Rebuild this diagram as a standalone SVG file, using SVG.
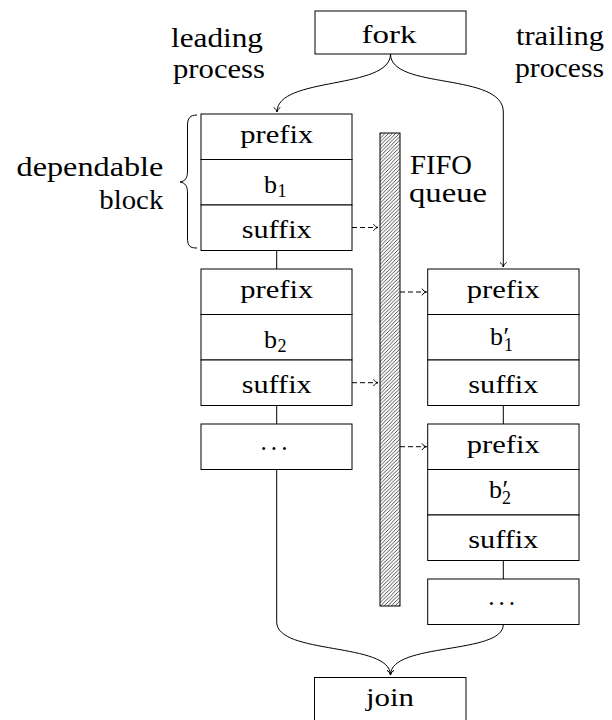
<svg xmlns="http://www.w3.org/2000/svg" width="612" height="720" viewBox="0 0 612 720">
  <style>
    .lbl { font-size: 27px; }
    .c { font-size: 25px; text-anchor: middle; }
    .m { font-size: 26px; }
    .sub { font-size: 18px; }
    .box { fill: #fff; stroke: #000; stroke-width: 1; }
    .edge { fill: none; stroke: #000; stroke-width: 1; }
    .dash { stroke-dasharray: 5 3; }
  </style>
  <defs>
    <!-- open curved "to" arrow tip -->
    <marker id="to" markerUnits="userSpaceOnUse" markerWidth="12" markerHeight="12" viewBox="-6 -6 12 12" refX="0" refY="0" orient="auto" overflow="visible">
      <path d="M-4.5,-3.3 C-3.4,-1.2 -1.3,-0.3 0,0 C-1.3,0.3 -3.4,1.2 -4.5,3.3" fill="none" stroke="#000" stroke-width="1" stroke-dasharray="none"/>
    </marker>
    <!-- north-east hatching for the queue bar -->
    <pattern id="hatch" patternUnits="userSpaceOnUse" width="3.6" height="3.6">
      <path d="M-0.9,0.9 L0.9,-0.9 M0,3.6 L3.6,0 M2.7,4.5 L4.5,2.7" stroke="#000" stroke-width="0.7"/>
    </pattern>
  </defs>

  <g font-family="'Liberation Serif', 'Times New Roman', serif" fill="#000">
  <!-- side labels -->
  <g id="label-leading">
    <text class="lbl" text-anchor="middle" x="217" y="46.7" textLength="92" lengthAdjust="spacingAndGlyphs">leading</text>
    <text class="lbl" text-anchor="middle" x="219" y="77.7" textLength="92" lengthAdjust="spacingAndGlyphs">process</text>
  </g>
  <g id="label-trailing">
    <text class="lbl" text-anchor="middle" x="560" y="45" textLength="88" lengthAdjust="spacingAndGlyphs">trailing</text>
    <text class="lbl" text-anchor="middle" x="559.5" y="77.3" textLength="89" lengthAdjust="spacingAndGlyphs">process</text>
  </g>
  <g id="label-dependable">
    <text class="lbl" text-anchor="end" x="163.3" y="175.5" textLength="146.7" lengthAdjust="spacingAndGlyphs">dependable</text>
    <text class="lbl" text-anchor="end" x="163.3" y="209" textLength="64" lengthAdjust="spacingAndGlyphs">block</text>
    <path class="edge" d="M197,115 C190,115 187.5,118 187.5,126 L187.5,171 C187.5,178 185.5,181 180,182 C185.5,183 187.5,186 187.5,193 L187.5,238 C187.5,246 190,248 197,248"/>
  </g>
  <g id="label-fifo">
    <text class="lbl" x="410" y="174" textLength="62" lengthAdjust="spacingAndGlyphs">FIFO</text>
    <text class="lbl" x="409" y="202" textLength="78" lengthAdjust="spacingAndGlyphs">queue</text>
  </g>

  <!-- connectors -->
  <g id="connectors">
    <path class="edge" d="M390.5,54 C390.5,90 277,76 277,112" marker-end="url(#to)"/>
    <path class="edge" d="M390.5,54 C390.5,90 503.3,72 503.3,112 L503.3,267" marker-end="url(#to)"/>
    <path class="edge" d="M276.7,250.5 L276.7,269 M276.7,405.5 L276.7,424"/>
    <path class="edge" d="M503.3,405.5 L503.3,424 M503.3,560.5 L503.3,579"/>
    <path class="edge" d="M276.7,469.5 L276.7,622 C276.7,655 390.5,642 390.5,675" marker-end="url(#to)"/>
    <path class="edge" d="M503.3,624.5 C503.3,655 390.5,642 390.5,675" marker-end="url(#to)"/>
    <path class="edge dash" d="M352,227.5 L378,227.5" marker-end="url(#to)"/>
    <path class="edge dash" d="M352,382.7 L378,382.7" marker-end="url(#to)"/>
    <path class="edge dash" d="M400,292 L426.5,292" marker-end="url(#to)"/>
    <path class="edge dash" d="M400,446.7 L426.5,446.7" marker-end="url(#to)"/>
  </g>

  <!-- fork / join -->
  <g id="fork">
    <rect class="box" x="315" y="11" width="151" height="43"/>
    <text class="c" x="389" y="43.3" textLength="55" lengthAdjust="spacingAndGlyphs">fork</text>
  </g>
  <g id="join">
    <rect class="box" x="314.5" y="677.5" width="151.5" height="46"/>
    <text class="c" x="390" y="705.7" textLength="48" lengthAdjust="spacingAndGlyphs">join</text>
  </g>

  <!-- FIFO queue bar -->
  <g id="fifo">
    <rect x="380" y="133" width="20" height="473" fill="url(#hatch)" stroke="#000" stroke-width="1"/>
  </g>

  <!-- leading process: first dependable block -->
  <g id="lead-prefix-1">
    <rect class="box" x="201" y="114" width="151" height="45.5"/>
    <text class="c" x="276.7" y="142.8" textLength="73" lengthAdjust="spacingAndGlyphs">prefix</text>
  </g>
  <g id="lead-b1">
    <rect class="box" x="201" y="159.5" width="151" height="45.5"/>
    <text class="m" y="193.3"><tspan x="264">b</tspan><tspan class="sub" x="277.5" y="196.8">1</tspan></text>
  </g>
  <g id="lead-suffix-1">
    <rect class="box" x="201" y="205" width="151" height="45.5"/>
    <text class="c" x="276.7" y="237.5" textLength="70" lengthAdjust="spacingAndGlyphs">suffix</text>
  </g>

  <!-- leading process: second block -->
  <g id="lead-prefix-2">
    <rect class="box" x="201" y="269" width="151" height="45.5"/>
    <text class="c" x="276.7" y="297.8" textLength="73" lengthAdjust="spacingAndGlyphs">prefix</text>
  </g>
  <g id="lead-b2">
    <rect class="box" x="201" y="314.5" width="151" height="45.5"/>
    <text class="m" y="348.3"><tspan x="264">b</tspan><tspan class="sub" x="277.5" y="351.8">2</tspan></text>
  </g>
  <g id="lead-suffix-2">
    <rect class="box" x="201" y="360" width="151" height="45.5"/>
    <text class="c" x="276.7" y="392.5" textLength="70" lengthAdjust="spacingAndGlyphs">suffix</text>
  </g>
  <g id="lead-more">
    <rect class="box" x="201" y="424" width="151" height="45.5"/>
    <text class="c" x="274" y="457" textLength="29" lengthAdjust="spacing">· · ·</text>
  </g>

  <!-- trailing process: first block -->
  <g id="trail-prefix-1">
    <rect class="box" x="427.7" y="269" width="151.3" height="45.5"/>
    <text class="c" x="503.3" y="297.8" textLength="73" lengthAdjust="spacingAndGlyphs">prefix</text>
  </g>
  <g id="trail-b1">
    <rect class="box" x="427.7" y="314.5" width="151.3" height="45.5"/>
    <text class="m" y="345"><tspan x="490">b</tspan><tspan x="503.5">′</tspan><tspan class="sub" x="504" y="351">1</tspan></text>
  </g>
  <g id="trail-suffix-1">
    <rect class="box" x="427.7" y="360" width="151.3" height="45.5"/>
    <text class="c" x="503.3" y="392.5" textLength="70" lengthAdjust="spacingAndGlyphs">suffix</text>
  </g>

  <!-- trailing process: second block -->
  <g id="trail-prefix-2">
    <rect class="box" x="427.7" y="424" width="151.3" height="45.5"/>
    <text class="c" x="503.3" y="452.8" textLength="73" lengthAdjust="spacingAndGlyphs">prefix</text>
  </g>
  <g id="trail-b2">
    <rect class="box" x="427.7" y="469.5" width="151.3" height="45.5"/>
    <text class="m" y="498"><tspan x="489">b</tspan><tspan x="502.5">′</tspan><tspan class="sub" x="502" y="504">2</tspan></text>
  </g>
  <g id="trail-suffix-2">
    <rect class="box" x="427.7" y="515" width="151.3" height="45.5"/>
    <text class="c" x="503.3" y="547.5" textLength="70" lengthAdjust="spacingAndGlyphs">suffix</text>
  </g>
  <g id="trail-more">
    <rect class="box" x="427.7" y="579" width="151.3" height="45.5"/>
    <text class="c" x="501.7" y="612" textLength="29" lengthAdjust="spacing">· · ·</text>
  </g>
  </g>
</svg>
